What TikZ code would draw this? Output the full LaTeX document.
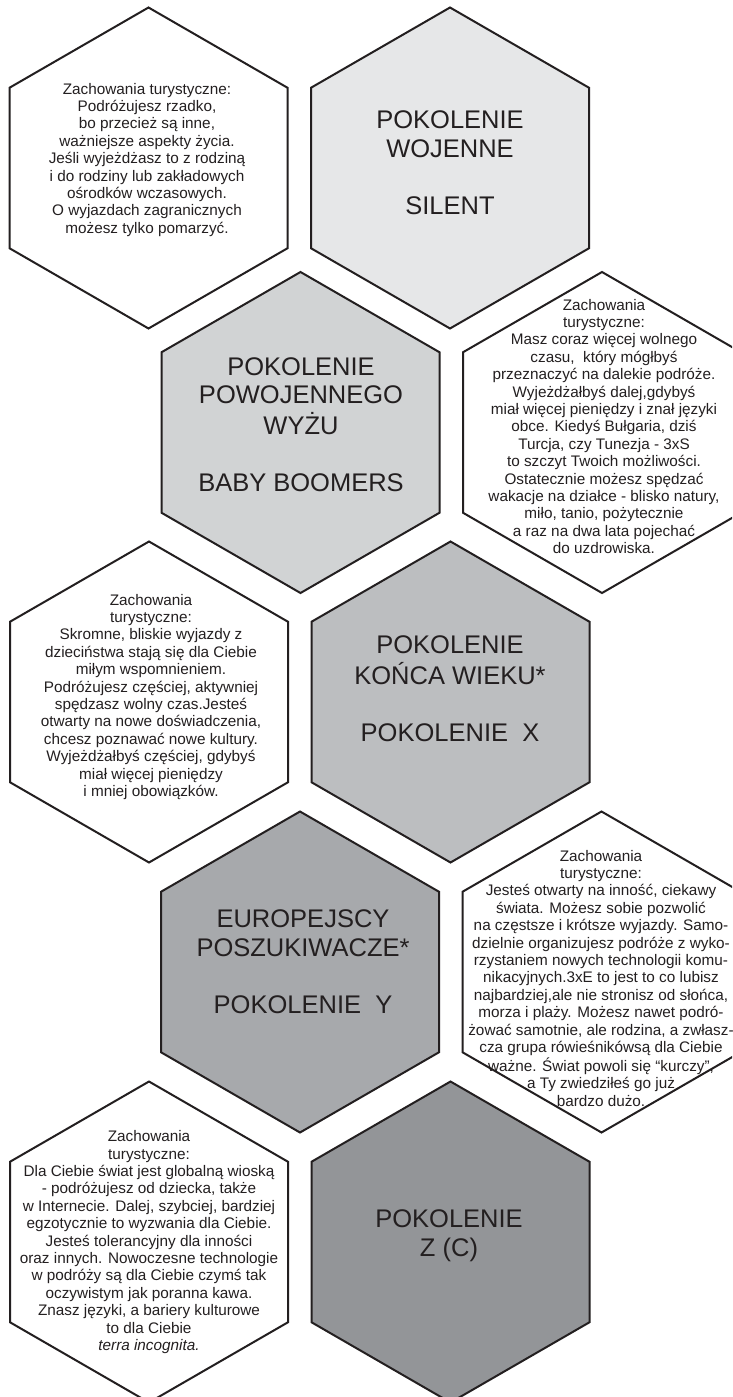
\documentclass[tikz,border=0pt]{standalone}
\usepackage{fontspec}
\setmainfont{Liberation Sans}
\usetikzlibrary{calc}
\definecolor{ink}{HTML}{231F20}
\definecolor{gA}{HTML}{E6E7E8}
\definecolor{gB}{HTML}{D1D3D4}
\definecolor{gC}{HTML}{BCBEC0}
\definecolor{gD}{HTML}{A7A9AC}
\definecolor{gE}{HTML}{939598}
\newcommand{\drawhexcell}[2]{\draw[hexline,fill=#2] ($(#1)+(0,-160.5)$) -- ++(139,80.25) -- ++(0,160.5) -- ++(-139,80.25) -- ++(-139,-80.25) -- ++(0,-160.5) -- cycle;}
\newcommand{\lines}[1]{\begin{tabular}[t]{@{}c@{}}#1\end{tabular}}
\tikzset{
  hexline/.style={draw=ink, line width=2pt, line join=miter},
  body/.style={anchor=base, text=ink, inner sep=0pt, font=\fontsize{15.3}{17.4}\selectfont},
  title/.style={anchor=base, text=ink, inner sep=0pt, font=\fontsize{25.5}{28.7}\selectfont},
}
\begin{document}
\begin{tikzpicture}[x=1pt,y=-1pt]
\useasboundingbox (0,0) rectangle (732,1397);
\clip (0,0) rectangle (732,1397);
\fill[white] (0,0) rectangle (732,1397);
% hex centres
\coordinate (hA) at (148.5,168);
\coordinate (hB) at (450,168);
\coordinate (hC) at (300.5,432.5);
\coordinate (hD) at (602,432.5);
\coordinate (hE) at (149,702);
\coordinate (hF) at (450.5,702);
\coordinate (hG) at (300,972);
\coordinate (hH) at (601.5,972);
\coordinate (hI) at (149,1242);
\coordinate (hJ) at (450.5,1242);
\drawhexcell{hA}{white}
\drawhexcell{hB}{gA}
\drawhexcell{hC}{gB}
\drawhexcell{hD}{white}
\drawhexcell{hE}{white}
\drawhexcell{hF}{gC}
\drawhexcell{hG}{gD}
\drawhexcell{hH}{white}
\drawhexcell{hI}{white}
\drawhexcell{hJ}{gE}
% texts
\node[body] (tA) at (147,94) {\lines{Zachowania turystyczne:\\ Podróżujesz rzadko,\\ bo przecież są inne,\\ ważniejsze aspekty życia.\\ Jeśli wyjeżdżasz to z rodziną\\ i do rodziny lub zakładowych\\ ośrodków wczasowych.\\ O wyjazdach zagranicznych\\ możesz tylko pomarzyć.}};
\node[title] (tB) at (450,128.3) {\lines{POKOLENIE\\ WOJENNE\\ \\ SILENT}};
\node[title] (tC) at (301,375) {\lines{POKOLENIE\\ POWOJENNEGO\\ WYŻU\\ \\ BABY BOOMERS}};
\node[body] (tD) at (604,310) {\lines{Zachowania\\ turystyczne:\\ Masz coraz więcej wolnego\\ czasu,~ który mógłbyś\\ przeznaczyć na dalekie podróże.\\ Wyjeżdżałbyś dalej,gdybyś\\ miał więcej pieniędzy i znał języki\\ obce. Kiedyś Bułgaria, dziś\\ Turcja, czy Tunezja - 3xS\\ to szczyt Twoich możliwości.\\ Ostatecznie możesz spędzać\\ wakacje na działce - blisko natury,\\ miło, tanio, pożytecznie\\ a raz na dwa lata pojechać\\ do uzdrowiska.}};
\node[body] (tE) at (151,605) {\lines{Zachowania\\ turystyczne:\\ Skromne, bliskie wyjazdy z\\ dzieciństwa stają się dla Ciebie\\ miłym wspomnieniem.\\ Podróżujesz częściej, aktywniej\\ spędzasz wolny czas.Jesteś\\ otwarty na nowe doświadczenia,\\ chcesz poznawać nowe kultury.\\ Wyjeżdżałbyś częściej, gdybyś\\ miał więcej pieniędzy\\ i mniej obowiązków.}};
\node[title] (tF) at (450,653.3) {\lines{POKOLENIE\\ KOŃCA WIEKU*\\ \\ POKOLENIE~ X}};
\node[title] (tG) at (303,927.7) {\lines{EUROPEJSCY\\ POSZUKIWACZE*\\ \\ POKOLENIE~ Y}};
\node[body] (tH) at (601,861) {\lines{Zachowania\\ turystyczne:\\ Jesteś otwarty na inność, ciekawy\\ świata. Możesz sobie pozwolić\\ na częstsze i krótsze wyjazdy. Samo-\\ dzielnie organizujesz podróże z wyko-\\ rzystaniem nowych technologii komu-\\ nikacyjnych.3xE to jest to co lubisz\\ najbardziej,ale nie stronisz od słońca,\\ morza i plaży. Możesz nawet podró-\\ żować samotnie, ale rodzina, a zwłasz-\\ cza grupa rówieśnikówsą dla Ciebie\\ ważne. Świat powoli się “kurczy”,\\ a Ty zwiedziłeś go już\\ bardzo dużo.}};
\node[body] (tI) at (149,1141.7) {\lines{Zachowania\\ turystyczne:\\ Dla Ciebie świat jest globalną wioską\\ - podróżujesz od dziecka, także\\ w Internecie. Dalej, szybciej, bardziej\\ egzotycznie to wyzwania dla Ciebie.\\ Jesteś tolerancyjny dla inności\\ oraz innych. Nowoczesne technologie\\ w podróży są dla Ciebie czymś tak\\ oczywistym jak poranna kawa.\\ Znasz języki, a bariery kulturowe\\ to dla Ciebie\\ \textit{terra incognita.}}};
\node[title] (tJ) at (449,1227.8) {\lines{POKOLENIE\\ Z (C)}};
\end{tikzpicture}
\end{document}
